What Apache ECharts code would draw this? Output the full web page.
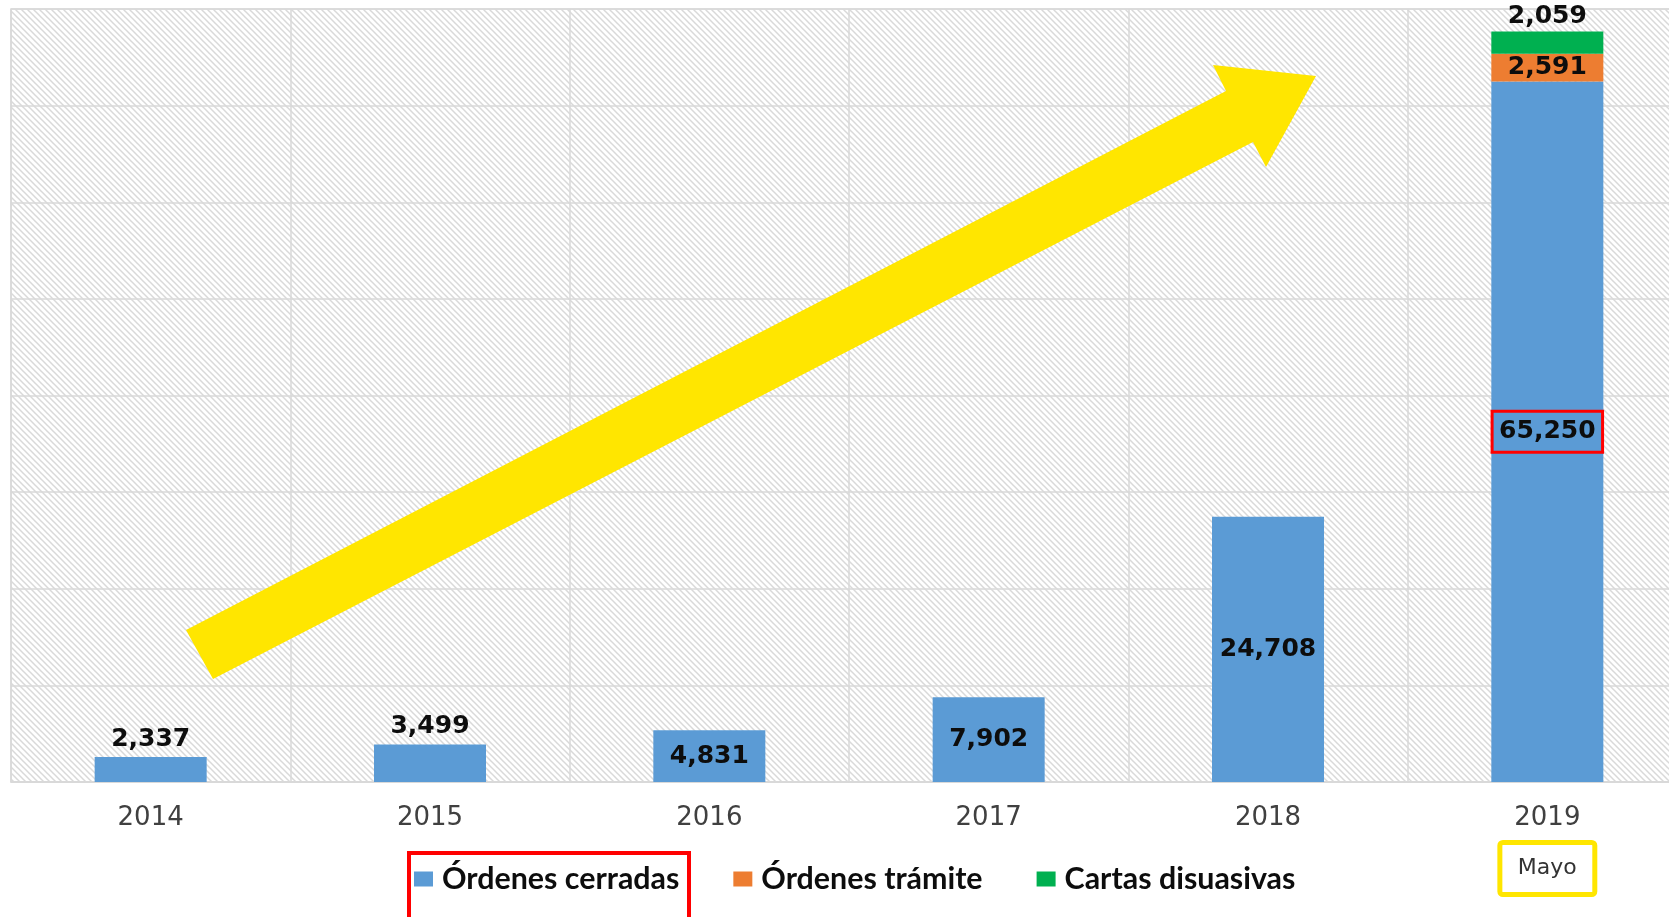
<!DOCTYPE html>
<html>
<head>
<meta charset="utf-8">
<script src="https://cdn.jsdelivr.net/npm/echarts@6/dist/echarts.min.js"></script>
<style>
html,body{margin:0;padding:0;background:#fff;}
#chart{width:1669px;height:917px;}
</style>
</head>
<body>
<div id="chart"></div>
<script>
// ---- data ----
const categories = ['2014', '2015', '2016', '2017', '2018', '2019'];
const seriesNames = ['Órdenes cerradas', 'Órdenes trámite', 'Cartas disuasivas'];
const ordenesCerradas = [2337, 3499, 4831, 7902, 24708, 65250];
const ordenesTramite = [null, null, null, null, null, 2591];
const cartasDisuasivas = [null, null, null, null, null, 2059];
const noteCategory = '2019';
const noteLabel = 'Mayo';
const yMax = 72000;
const yInterval = 9000;

// ---- styling ----
const COLORS = ['#5B9BD5', '#ED7D31', '#00B050'];
const GRID_LINE = '#d9d9d9';
const fmt = v => Number(v).toLocaleString('en-US');

// hatched plot background
const tile = document.createElement('canvas');
tile.width = 6; tile.height = 6;
const tctx = tile.getContext('2d');
tctx.fillStyle = '#ffffff';
tctx.fillRect(0, 0, 6, 6);
tctx.strokeStyle = '#d9d9d9';
tctx.lineWidth = 1.5;
tctx.beginPath();
tctx.moveTo(-1, -1); tctx.lineTo(7, 7);
tctx.moveTo(-1, 5); tctx.lineTo(1, 7);
tctx.moveTo(5, -1); tctx.lineTo(7, 1);
tctx.stroke();

const maxVal = Math.max(...ordenesCerradas);
const labelFont = { fontFamily: 'DejaVu Sans', fontWeight: 'bold', fontSize: 25, color: '#0d0d0d' };

const cerradasData = ordenesCerradas.map(v => {
  const item = { value: v };
  if (v < 4000) {
    item.label = { position: 'top', distance: 5 };
  } else if (v === maxVal) {
    item.label = { position: 'inside', borderColor: '#FF0000', borderWidth: 3, padding: [9, 7, 7, 7] };
  }
  return item;
});

const chart = echarts.init(document.getElementById('chart'), null, { renderer: 'canvas' });

const option = {
  animation: false,
  backgroundColor: '#ffffff',
  color: COLORS,
  grid: {
    left: 11, top: 9, width: 1676, height: 773,
    outerBoundsMode: 'none',
    containLabel: false,
    show: true,
    backgroundColor: { image: tile, repeat: 'repeat' },
    borderColor: GRID_LINE, borderWidth: 1.5
  },
  legend: {
    data: seriesNames,
    left: 414, top: 864,
    padding: 0,
    itemWidth: 19, itemHeight: 15,
    itemGap: 54,
    icon: 'rect',
    textStyle: { fontFamily: 'Lato', fontWeight: 'bold', fontSize: 30.4, color: '#0d0d0d', padding: [0, 0, 0, 4] }
  },
  xAxis: {
    type: 'category',
    data: categories,
    axisTick: { show: false },
    axisLine: { lineStyle: { color: GRID_LINE, width: 1.5 } },
    splitLine: { show: true, lineStyle: { color: GRID_LINE, width: 1.5 } },
    axisLabel: {
      margin: 21,
      formatter: v => v === noteCategory ? '{yr|' + v + '}\n{sp| }\n{note|' + noteLabel + '}' : '{yr|' + v + '}',
      rich: {
        yr: { fontFamily: 'DejaVu Sans', fontSize: 26, color: '#404040', lineHeight: 30 },
        sp: { fontSize: 2, lineHeight: 23 },
        note: {
          fontFamily: 'DejaVu Sans', fontSize: 22, color: '#333333', lineHeight: 25,
          padding: [15, 18, 15, 18],
          borderColor: '#FFE600', borderWidth: 5, borderRadius: 3
        }
      }
    }
  },
  yAxis: {
    type: 'value',
    min: 0, max: yMax, interval: yInterval,
    axisLabel: { show: false },
    axisLine: { show: false },
    axisTick: { show: false },
    splitLine: { lineStyle: { color: GRID_LINE, width: 1.5 } }
  },
  series: [
    {
      name: seriesNames[0], type: 'bar', stack: 'total', barWidth: 112,
      data: cerradasData,
      label: Object.assign({ show: true, position: 'inside', formatter: p => fmt(p.value) }, labelFont)
    },
    {
      name: seriesNames[1], type: 'bar', stack: 'total', barWidth: 112,
      data: ordenesTramite,
      label: Object.assign({ show: true, position: 'inside', formatter: p => fmt(p.value) }, labelFont)
    },
    {
      name: seriesNames[2], type: 'bar', stack: 'total', barWidth: 112,
      data: cartasDisuasivas,
      label: Object.assign({ show: true, position: 'top', distance: 3, formatter: p => fmt(p.value) }, labelFont)
    }
  ],
  graphic: [
    {
      type: 'polygon', z: 50,
      shape: { points: [[186, 630], [1226, 91], [1213, 65], [1316, 76], [1266, 167], [1253, 142], [213, 679]] },
      style: { fill: '#FFE600' }
    },
    {
      type: 'rect', z: 50,
      shape: { x: 409, y: 853, width: 280, height: 70 },
      style: { fill: 'none', stroke: '#FF0000', lineWidth: 4 }
    }
  ]
};

chart.setOption(option);
</script>
</body>
</html>
